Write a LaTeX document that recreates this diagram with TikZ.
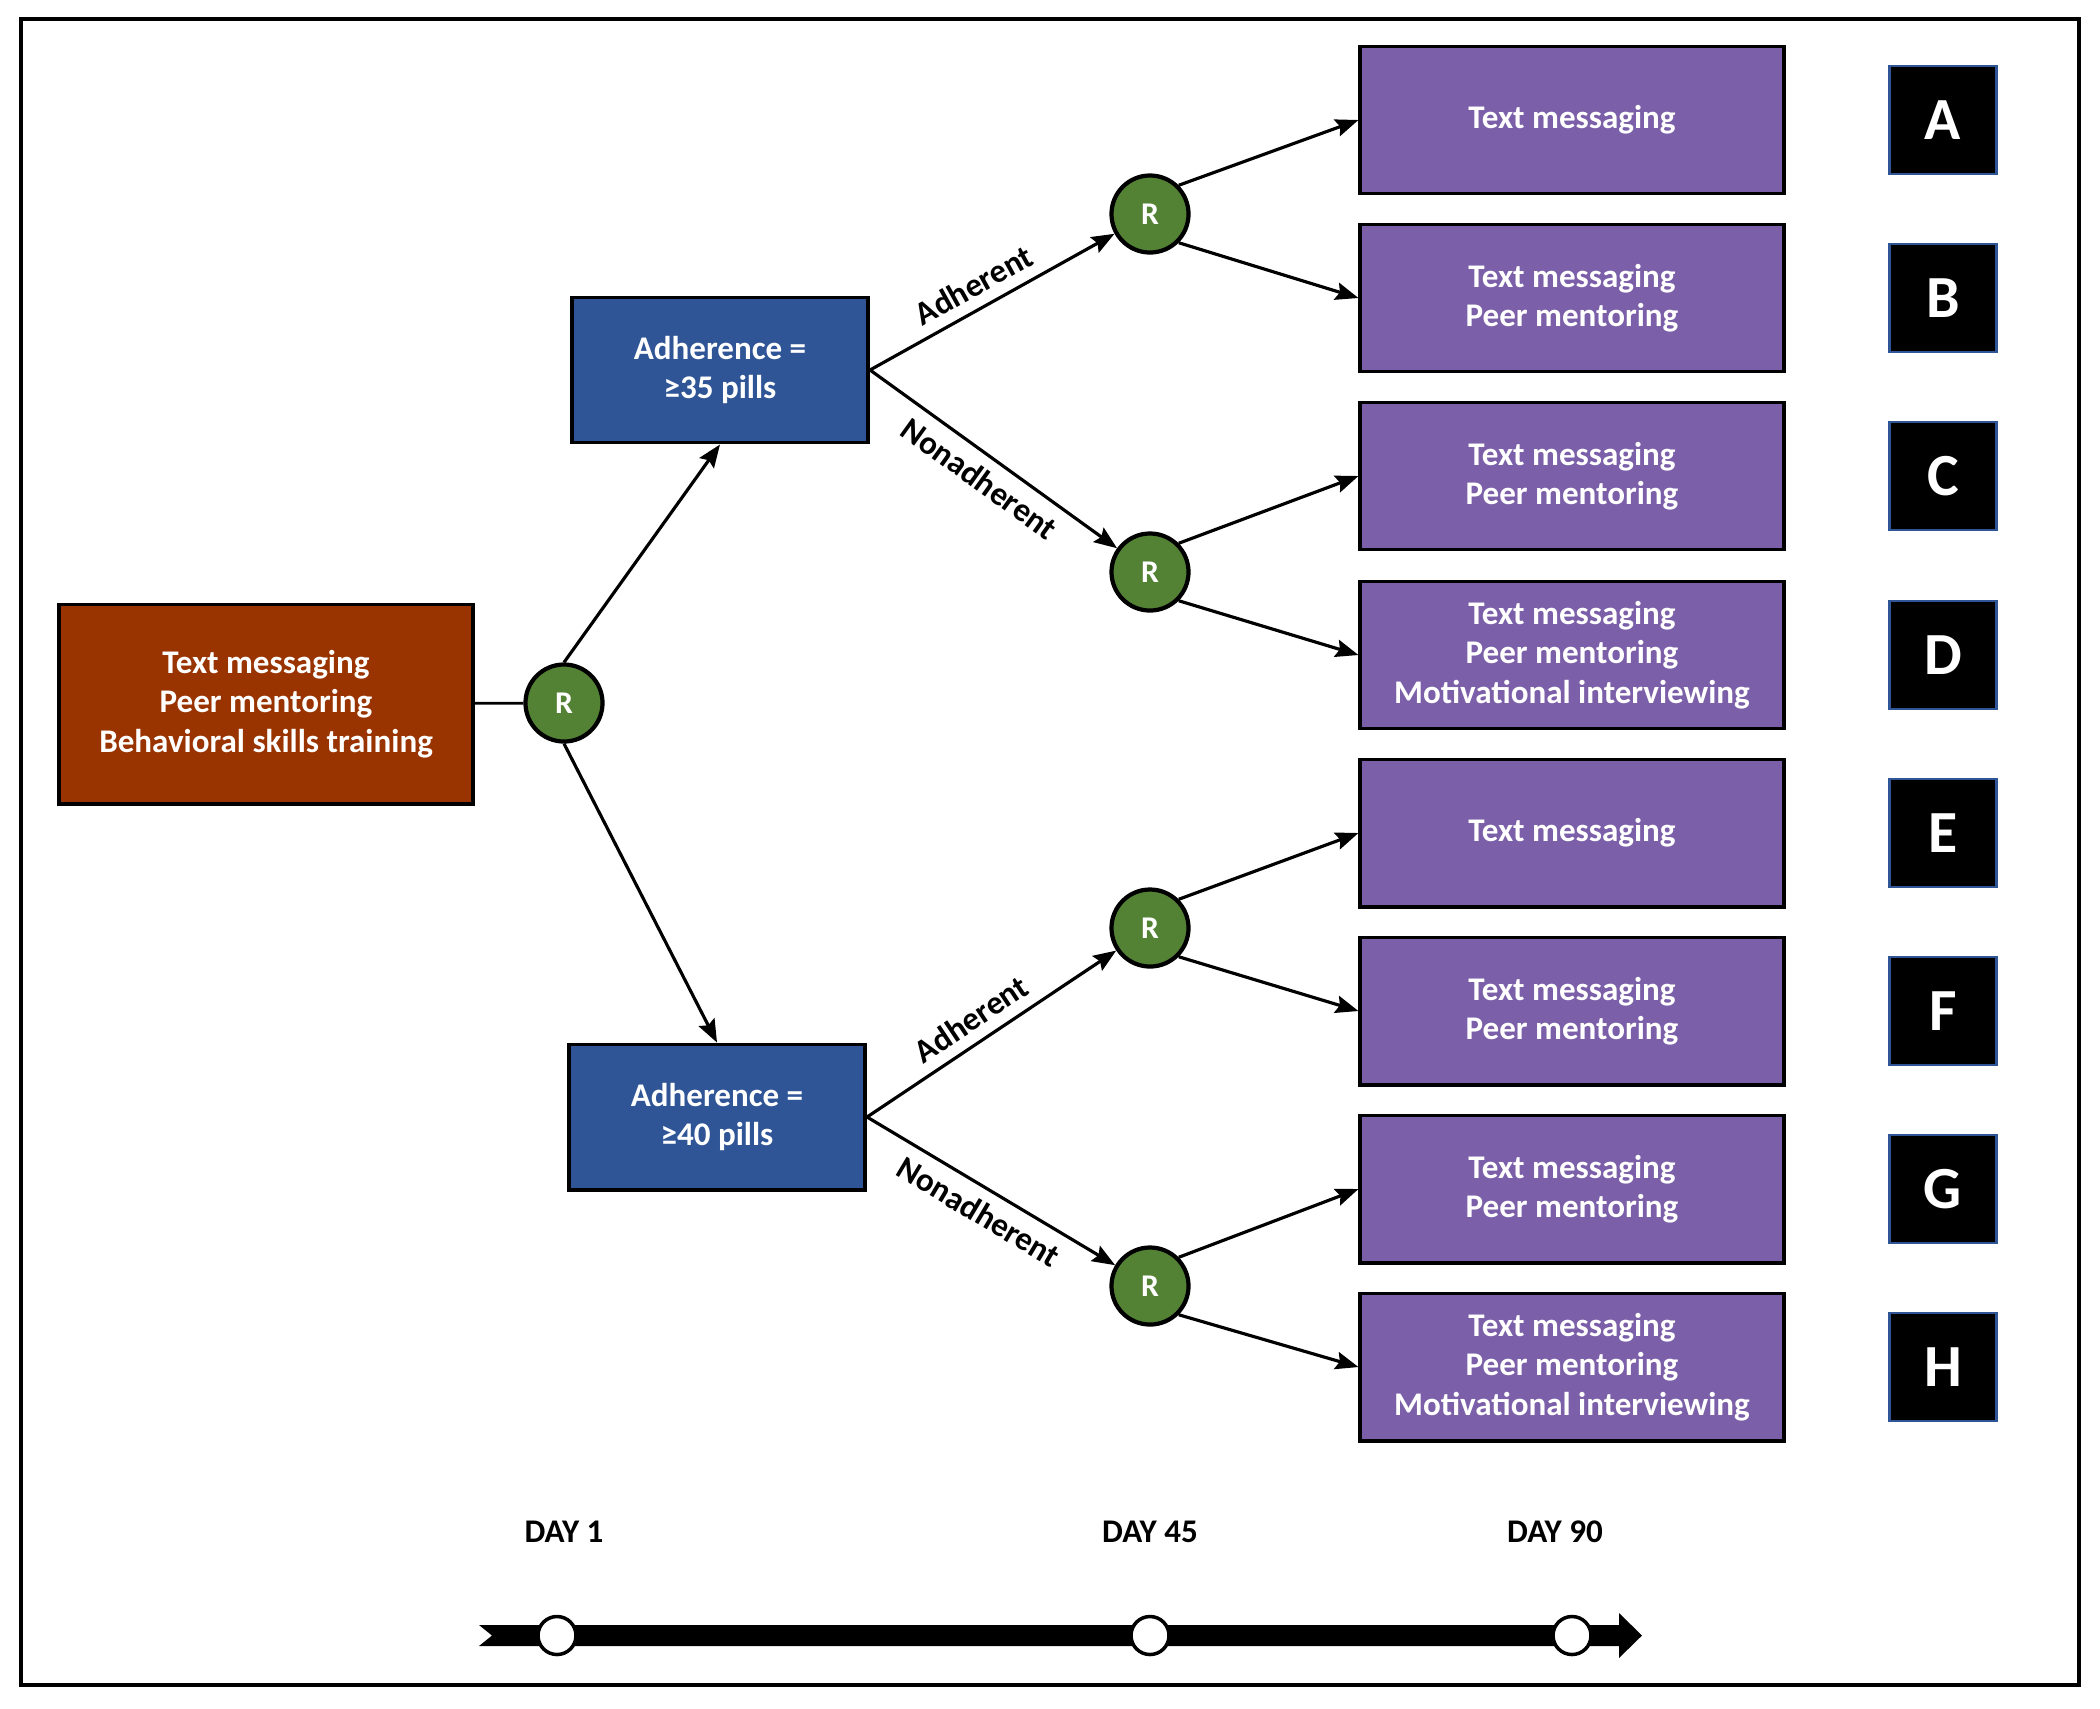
\documentclass[tikz,border=0pt]{standalone}
\usepackage{fontspec}
\setmainfont{Carlito}
\usetikzlibrary{positioning,arrows.meta}

\definecolor{startbrown}{HTML}{993300}
\definecolor{pillblue}{HTML}{2F5597}
\definecolor{rgreen}{HTML}{548235}
\definecolor{armpurple}{HTML}{7B5FA8}

\tikzset{
  txt/.style={font=\bfseries\fontsize{9.4}{11.2}\selectfont, align=center},
  boxed/.style={txt, draw=black, line width=1.1pt, text=white, inner sep=0pt},
  startbox/.style={boxed, fill=startbrown, minimum width=4.13cm, minimum height=1.99cm},
  pillbox/.style={boxed, fill=pillblue, minimum width=2.96cm, minimum height=1.45cm},
  armbox/.style={boxed, fill=armpurple, minimum width=4.23cm, minimum height=1.47cm},
  rnode/.style={circle, draw=black, line width=1.2pt, fill=rgreen, text=white,
    minimum size=0.77cm, inner sep=0pt, font=\bfseries\fontsize{9}{10}\selectfont},
  letterbox/.style={draw=pillblue, line width=0.8pt, fill=black, text=white,
    minimum width=1.07cm, minimum height=1.08cm, inner sep=0pt,
    font=\bfseries\fontsize{17}{19}\selectfont},
  lab/.style={txt, inner sep=3pt},
  arr/.style={-{Stealth[length=6.5pt, width=5pt, inset=1pt]}, line width=0.9pt},
}

\begin{document}
\begin{tikzpicture}[x=0.01cm, y=-0.01cm]
                \useasboundingbox (0,0) rectangle (2100,1708);
                \draw[line width=0.9pt] (21,19) rectangle (2079,1685);

                % day 1
                \node[startbox] (start) at (266,704) {Text messaging\\Peer mentoring\\Behavioral skills training};
                \node[rnode] (r0) at (564,703) {R};
                \draw[line width=0.8pt] (start) -- (r0);

                \node[pillbox] (p35) at (720,370) {Adherence =\\≥35 pills};
                \node[pillbox] (p40) at (717,1117) {Adherence =\\≥40 pills};
                \draw[arr] (r0.north) -- (p35.south);
                \draw[arr] (r0.south) -- (p40.north);

                % day 45
                \node[rnode] (r1) at (1150,214) {R};
                \node[rnode] (r2) at (1150,572) {R};
                \node[rnode] (r3) at (1150,928) {R};
                \node[rnode] (r4) at (1150,1286) {R};

                \draw[arr] (p35.east) -- node[lab, above, sloped, pos=0.47] {Adherent} (r1);
                \draw[arr] (p35.east) -- node[lab, below, sloped, pos=0.5] {Nonadherent} (r2);
                \draw[arr] (p40.east) -- node[lab, above, sloped, pos=0.47] {Adherent} (r3);
                \draw[arr] (p40.east) -- node[lab, below, sloped, pos=0.5] {Nonadherent} (r4);

                % day 90
                \node[armbox] (armA) at (1572,120) {Text messaging};
                \node[armbox] (armB) at (1572,298) {Text messaging\\Peer mentoring};
                \node[armbox] (armC) at (1572,476) {Text messaging\\Peer mentoring};
                \node[armbox] (armD) at (1572,655) {Text messaging\\Peer mentoring\\Motivational interviewing};
                \node[armbox] (armE) at (1572,833) {Text messaging};
                \node[armbox] (armF) at (1572,1011) {Text messaging\\Peer mentoring};
                \node[armbox] (armG) at (1572,1189) {Text messaging\\Peer mentoring};
                \node[armbox] (armH) at (1572,1367) {Text messaging\\Peer mentoring\\Motivational interviewing};

                \draw[arr] (r1.north east) -- (armA.west);
                \draw[arr] (r1.south east) -- (armB.west);
                \draw[arr] (r2.north east) -- (armC.west);
                \draw[arr] (r2.south east) -- (armD.west);
                \draw[arr] (r3.north east) -- (armE.west);
                \draw[arr] (r3.south east) -- (armF.west);
                \draw[arr] (r4.north east) -- (armG.west);
                \draw[arr] (r4.south east) -- (armH.west);

                \node[letterbox] (lA) at (1943,120) {A};
                \node[letterbox] (lB) at (1943,298) {B};
                \node[letterbox] (lC) at (1943,476) {C};
                \node[letterbox] (lD) at (1943,655) {D};
                \node[letterbox] (lE) at (1943,833) {E};
                \node[letterbox] (lF) at (1943,1011) {F};
                \node[letterbox] (lG) at (1943,1189) {G};
                \node[letterbox] (lH) at (1943,1367) {H};

                % timeline
                \node[txt] (day1) at (564,1532) {DAY 1};
                \node[txt] (day45) at (1150,1532) {DAY 45};
                \node[txt] (day90) at (1555,1532) {DAY 90};

                \fill (479,1625) -- (492,1635.5) -- (479,1646) -- (1619,1646) -- (1619,1658)
                      -- (1642,1635.5) -- (1619,1613) -- (1619,1625) -- cycle;
                \filldraw[fill=white, line width=1pt] (557,1635.5) circle (0.19cm);
                \filldraw[fill=white, line width=1pt] (1150,1635.5) circle (0.19cm);
                \filldraw[fill=white, line width=1pt] (1572,1635.5) circle (0.19cm);
            \end{tikzpicture}
\end{document}
